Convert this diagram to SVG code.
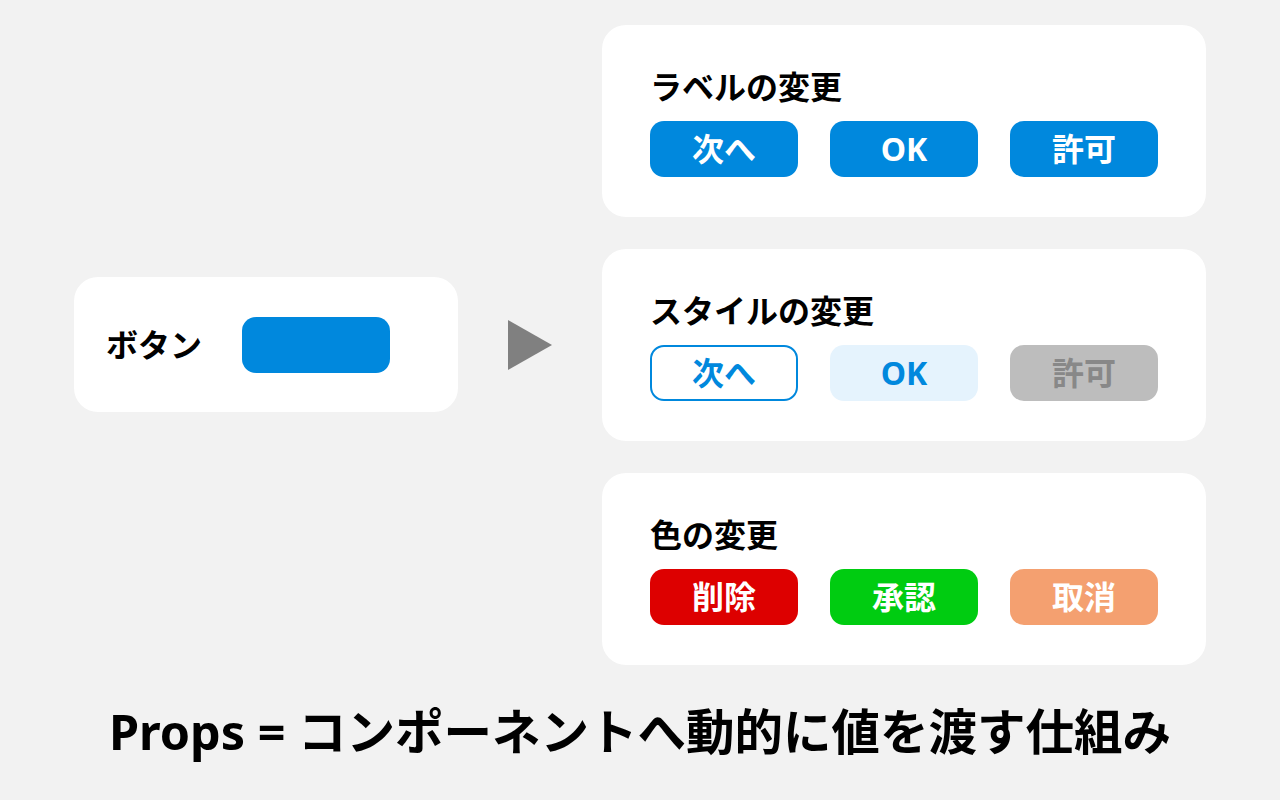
<svg xmlns="http://www.w3.org/2000/svg" width="1280" height="800" viewBox="0 0 1280 800">
<style>
text{font-family:"Noto Sans","Noto Sans CJK JP",sans-serif;font-weight:700}
.card{fill:#ffffff}
.title{font-size:32px;fill:#000}
.bt{font-size:32px;text-anchor:middle}
.w{fill:#fff}
</style>
<rect x="0" y="0" width="1280" height="800" fill="#f2f2f2"/>
<g id="source">
<rect class="card" x="74" y="277" width="384" height="135" rx="24"/>
<text class="title" x="106" y="357">ボタン</text>
<rect x="242" y="317" width="148" height="56" rx="14" fill="#0088dd"/>
</g>
<g id="connectors">
<polygon points="508,320 552,345 508,370" fill="#808080"/>
</g>
<g id="label-card">
<rect class="card" x="602" y="25" width="604" height="192" rx="24"/>
<text class="title" x="650" y="99">ラベルの変更</text>
<rect x="650" y="121" width="148" height="56" rx="14" fill="#0088dd"/>
<text class="bt w" x="724" y="161">次へ</text>
<rect x="830" y="121" width="148" height="56" rx="14" fill="#0088dd"/>
<text class="bt w" x="904" y="161">OK</text>
<rect x="1010" y="121" width="148" height="56" rx="14" fill="#0088dd"/>
<text class="bt w" x="1084" y="161">許可</text>
</g>
<g id="style-card">
<rect class="card" x="602" y="249" width="604" height="192" rx="24"/>
<text class="title" x="650" y="323">スタイルの変更</text>
<rect x="651" y="346" width="146" height="54" rx="13" fill="#ffffff" stroke="#0088dd" stroke-width="2"/>
<text class="bt" x="724" y="385" fill="#0088dd">次へ</text>
<rect x="830" y="345" width="148" height="56" rx="14" fill="#e5f3fd"/>
<text class="bt" x="904" y="385" fill="#0088dd">OK</text>
<rect x="1010" y="345" width="148" height="56" rx="14" fill="#bdbdbd"/>
<text class="bt" x="1084" y="385" fill="#888888">許可</text>
</g>
<g id="color-card">
<rect class="card" x="602" y="473" width="604" height="192" rx="24"/>
<text class="title" x="650" y="547">色の変更</text>
<rect x="650" y="569" width="148" height="56" rx="14" fill="#dd0000"/>
<text class="bt w" x="724" y="609">削除</text>
<rect x="830" y="569" width="148" height="56" rx="14" fill="#00cc11"/>
<text class="bt w" x="904" y="609">承認</text>
<rect x="1010" y="569" width="148" height="56" rx="14" fill="#f4a070"/>
<text class="bt w" x="1084" y="609">取消</text>
</g>
<g id="caption">
<text x="640" y="750" text-anchor="middle" font-size="48.5" fill="#000">Props = コンポーネントへ動的に値を渡す仕組み</text>
</g>
</svg>
